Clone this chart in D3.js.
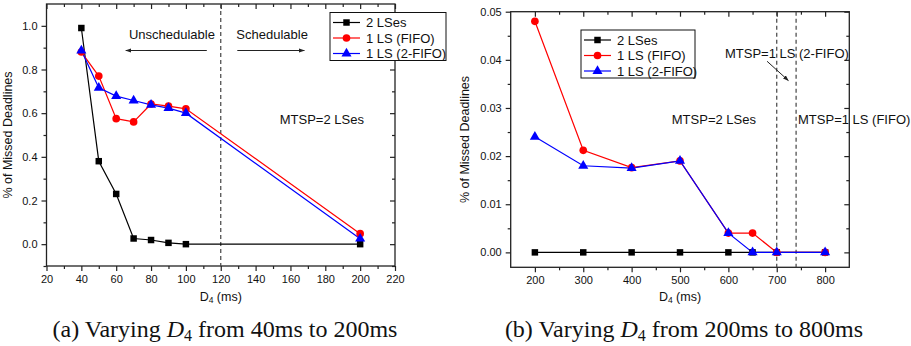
<!DOCTYPE html>
<html>
<head>
<meta charset="utf-8">
<script src="https://cdn.jsdelivr.net/npm/d3@7"></script>
<style>
  body { margin: 0; background: #fff; }
  svg { display: block; }
  text { font-family: "Liberation Sans", Arial, sans-serif; fill: #111; }
  .caption { font-family: "Liberation Serif", "Times New Roman", serif; font-size: 24px; }
</style>
</head>
<body>
<div id="vis"></div>
<script>
// series names (legend)
var seriesNames = ["2 LSes", "1 LS (FIFO)", "1 LS (2-FIFO)"];

// panel (a): D4 from 40ms to 200ms
var xA = [40, 50, 60, 70, 80, 90, 100, 200];
var a_2LSes = [0.99, 0.38, 0.23, 0.026, 0.019, 0.006, 0.0, 0.0];
var a_FIFO = [0.88, 0.77, 0.575, 0.56, 0.642, 0.632, 0.62, 0.048];
var a_2FIFO = [0.887, 0.716, 0.678, 0.658, 0.638, 0.623, 0.60, 0.025];
var xTicksA = [20, 40, 60, 80, 100, 120, 140, 160, 180, 200, 220];
var yTicksA = [0.0, 0.2, 0.4, 0.6, 0.8, 1.0];

// panel (b): D4 from 200ms to 800ms
var xB = [200, 300, 400, 500, 600, 650, 700, 800];
var b_2LSes = [0, 0, 0, 0, 0, 0, 0, 0];
var b_FIFO = [0.048, 0.0212, 0.0176, 0.019, 0.004, 0.004, 0.0, 0.0];
var b_2FIFO = [0.024, 0.018, 0.0175, 0.019, 0.004, 0.0, 0.0, 0.0];
var xTicksB = [200, 300, 400, 500, 600, 700, 800];
var yTicksB = [0.00, 0.01, 0.02, 0.03, 0.04, 0.05];

var colors = ["#000000", "#ff0000", "#0000ff"];
var symbols = [d3.symbolSquare, d3.symbolCircle, d3.symbolTriangle];
var symSizes = [42, 46, 44];

var svg = d3.select("#vis").append("svg")
    .attr("width", 911)
    .attr("height", 346);

var defs = svg.append("defs");
defs.append("marker")
    .attr("id", "arrow")
    .attr("viewBox", "0 0 10 10")
    .attr("refX", 9).attr("refY", 5)
    .attr("markerWidth", 6).attr("markerHeight", 6)
    .attr("orient", "auto")
    .append("path")
    .attr("d", "M0,1.5 L10,5 L0,8.5 z")
    .style("fill", "#222");

function drawPanel(cfg) {
    var x = d3.scaleLinear().domain(cfg.xDomain).range([cfg.left, cfg.right]);
    var y = d3.scaleLinear().domain(cfg.yDomain).range([cfg.bottom, cfg.top]);
    var g = svg.append("g");

    // frame
    g.append("rect")
        .attr("x", cfg.left).attr("y", cfg.top)
        .attr("width", cfg.right - cfg.left)
        .attr("height", cfg.bottom - cfg.top)
        .style("fill", "none").style("stroke", "#222").style("stroke-width", 1.3);

    // axes: bottom/left outward, top/right inward (mirrored)
    function styleAxis(sel) {
        sel.select(".domain").remove();
        sel.selectAll("line").style("stroke", "#222").style("stroke-width", 1.2);
        sel.selectAll("text").style("font-size", "11px").style("font-family", "Liberation Sans, Arial, sans-serif").style("fill", "#111");
    }
    g.append("g").attr("transform", "translate(0," + cfg.bottom + ")")
        .call(d3.axisBottom(x).tickValues(cfg.xTicks).tickSize(5).tickPadding(4).tickFormat(d3.format("d")))
        .call(styleAxis);
    g.append("g").attr("transform", "translate(0," + cfg.bottom + ")")
        .call(d3.axisBottom(x).tickValues(cfg.xMinor).tickSize(3).tickFormat(""))
        .call(styleAxis);
    g.append("g").attr("transform", "translate(0," + cfg.top + ")")
        .call(d3.axisBottom(x).tickValues(cfg.xTicks).tickSize(5).tickFormat(""))
        .call(styleAxis);
    g.append("g").attr("transform", "translate(0," + cfg.top + ")")
        .call(d3.axisBottom(x).tickValues(cfg.xMinor).tickSize(3).tickFormat(""))
        .call(styleAxis);
    g.append("g").attr("transform", "translate(" + cfg.left + ",0)")
        .call(d3.axisLeft(y).tickValues(cfg.yTicks).tickSize(5).tickPadding(4).tickFormat(d3.format(cfg.yFmt)))
        .call(styleAxis);
    g.append("g").attr("transform", "translate(" + cfg.left + ",0)")
        .call(d3.axisLeft(y).tickValues(cfg.yMinor).tickSize(3).tickFormat(""))
        .call(styleAxis);
    g.append("g").attr("transform", "translate(" + cfg.right + ",0)")
        .call(d3.axisLeft(y).tickValues(cfg.yTicks).tickSize(5).tickFormat(""))
        .call(styleAxis);
    g.append("g").attr("transform", "translate(" + cfg.right + ",0)")
        .call(d3.axisLeft(y).tickValues(cfg.yMinor).tickSize(3).tickFormat(""))
        .call(styleAxis);

    // dashed vertical lines
    cfg.vlines.forEach(function (v) {
        g.append("line")
            .attr("x1", x(v)).attr("x2", x(v))
            .attr("y1", cfg.top).attr("y2", cfg.bottom)
            .style("stroke", "#444").style("stroke-width", 1.2)
            .style("stroke-dasharray", "4,3");
    });

    // series lines + markers
    cfg.series.forEach(function (vals, i) {
        var pts = cfg.xs.map(function (xv, j) { return [x(xv), y(vals[j])]; });
        g.append("path")
            .attr("d", d3.line()(pts))
            .style("fill", "none").style("stroke", colors[i]).style("stroke-width", 1.2);
    });
    cfg.series.forEach(function (vals, i) {
        g.selectAll(null)
            .data(cfg.xs)
            .enter().append("path")
            .attr("transform", function (d, j) { return "translate(" + x(d) + "," + y(vals[j]) + ")"; })
            .attr("d", d3.symbol().type(symbols[i]).size(symSizes[i]))
            .style("fill", colors[i]);
    });

    // annotations
    cfg.notes.forEach(function (n) {
        g.append("text")
            .attr("x", x(n.x)).attr("y", y(n.y))
            .attr("text-anchor", n.anchor || "middle")
            .style("font-size", "13px")
            .text(n.text);
    });
    cfg.arrows.forEach(function (a) {
        g.append("line")
            .attr("x1", x(a[0])).attr("y1", y(a[1]))
            .attr("x2", x(a[2])).attr("y2", y(a[3]))
            .style("stroke", "#222").style("stroke-width", 1)
            .attr("marker-end", "url(#arrow)");
    });

    // legend
    var lg = svg.append("g").attr("transform", "translate(" + cfg.legend[0] + "," + cfg.legend[1] + ")");
    lg.append("rect")
        .attr("width", cfg.legend[2]).attr("height", 48)
        .style("fill", "#fff").style("stroke", "#111").style("stroke-width", 1);
    seriesNames.forEach(function (name, i) {
        var yy = 10 + i * 15.5;
        lg.append("line")
            .attr("x1", 3).attr("x2", 30).attr("y1", yy).attr("y2", yy)
            .style("stroke", colors[i]).style("stroke-width", 1.2);
        lg.append("path")
            .attr("transform", "translate(16.5," + yy + ")")
            .attr("d", d3.symbol().type(symbols[i]).size(symSizes[i]))
            .style("fill", colors[i]);
        lg.append("text")
            .attr("x", 36).attr("y", yy + 4.5)
            .style("font-size", "13px")
            .text(name);
    });

    // axis titles
    var xt = svg.append("text")
        .attr("x", (cfg.left + cfg.right) / 2).attr("y", 301)
        .attr("text-anchor", "middle")
        .style("font-size", "12.5px");
    xt.append("tspan").text("D");
    xt.append("tspan").attr("dy", 2).style("font-size", "8.5px").text("4");
    xt.append("tspan").attr("dy", -2).text(" (ms)");

    svg.append("text")
        .attr("transform", "translate(" + cfg.ylabX + "," + ((cfg.top + cfg.bottom) / 2) + ") rotate(-90)")
        .attr("text-anchor", "middle")
        .style("font-size", "12.5px")
        .text("% of Missed Deadlines");

    // caption
    var cap = svg.append("text")
        .attr("class", "caption")
        .attr("x", cfg.capX).attr("y", 337)
        .attr("text-anchor", "middle");
    cap.append("tspan").text(cfg.caption[0]);
    cap.append("tspan").style("font-style", "italic").text("D");
    cap.append("tspan").attr("dy", 4).style("font-size", "16px").text("4");
    cap.append("tspan").attr("dy", -4).text(cfg.caption[1]);
}

drawPanel({
    left: 46.5, right: 395, top: 4, bottom: 266,
    xDomain: [20, 220], yDomain: [-0.1, 1.1],
    xTicks: xTicksA, yTicks: yTicksA,
    xMinor: d3.range(30, 220, 20), yMinor: [-0.1, 0.1, 0.3, 0.5, 0.7, 0.9],
    yFmt: ".1f",
    xs: xA, series: [a_2LSes, a_FIFO, a_2FIFO],
    vlines: [120],
    notes: [
        {x: 92, y: 0.94, text: "Unschedulable"},
        {x: 149.5, y: 0.94, text: "Schedulable"},
        {x: 178, y: 0.55, text: "MTSP=2 LSes"}
    ],
    arrows: [[112, 0.887, 65.5, 0.887], [129.5, 0.887, 168, 0.887]],
    legend: [330, 12.5, 116],
    ylabX: 12,
    capX: 225,
    caption: ["(a) Varying ", " from 40ms to 200ms"]
});

drawPanel({
    left: 510.7, right: 849.3, top: 11.7, bottom: 267.3,
    xDomain: [150, 850], yDomain: [-0.0031, 0.05],
    xTicks: xTicksB, yTicks: yTicksB,
    xMinor: d3.range(250, 850, 100), yMinor: [0.005, 0.015, 0.025, 0.035, 0.045],
    yFmt: ".2f",
    xs: xB, series: [b_2LSes, b_FIFO, b_2FIFO],
    vlines: [700, 740],
    notes: [
        {x: 593, y: 0.0404, text: "MTSP=1 LS (2-FIFO)", anchor: "start"},
        {x: 570, y: 0.0267, text: "MTSP=2 LSes"},
        {x: 744, y: 0.0267, text: "MTSP=1 LS (FIFO)", anchor: "start"}
    ],
    arrows: [[680, 0.0397, 724, 0.0357]],
    legend: [581, 30, 114],
    ylabX: 469,
    capX: 684,
    caption: ["(b) Varying ", " from 200ms to 800ms"]
});
</script>
</body>
</html>
